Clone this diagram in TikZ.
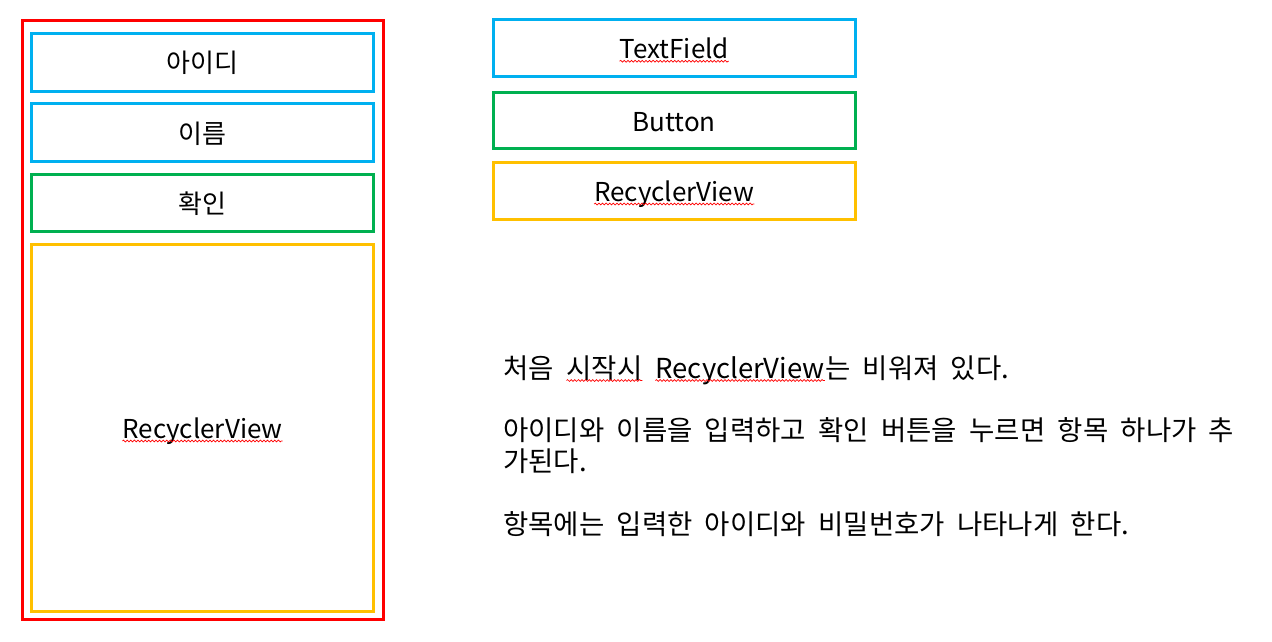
\documentclass[tikz,border=0pt]{standalone}
\usepackage{fontspec}
\setmainfont{Noto Sans CJK KR}[WordSpace=2.0]
\usepackage{tikz}
\usetikzlibrary{positioning,decorations.pathmorphing}
\usepackage{xcolor}
\definecolor{fieldblue}{HTML}{00B0F0}
\definecolor{buttongreen}{HTML}{00B050}
\definecolor{listyellow}{HTML}{FFC000}
\definecolor{framered}{HTML}{FF0000}
\newcommand{\spellmark}[1]{\tikz[baseline=(sw.base)]{%
  \node[draw=none, inner sep=0pt, outer sep=0pt, minimum width=0pt,
    minimum height=0pt, text height=, text depth=] (sw) {#1};
  \draw[framered, line width=0.7pt, decorate,
    decoration={snake, amplitude=0.9pt, segment length=3.6pt}]
    ([yshift=-2.5pt]sw.base west) -- ([yshift=-2.5pt]sw.base east);}}
\tikzset{
  widget/.style={draw, line width=3pt, minimum width=342pt, minimum height=58pt,
    inner sep=0pt, text height=21pt, text depth=0pt,
    font=\fontsize{26}{30}\selectfont},
  legend/.style={widget, minimum width=361.5pt, minimum height=56.5pt},
  desc/.style={anchor=base west, inner sep=0pt, font=\fontsize{27.5}{32}\selectfont},
}

\begin{document}
\begin{tikzpicture}[x=1pt, y=-1pt]
\useasboundingbox (0,0) rectangle (1272,642);

% phone screen
\node[draw=framered, line width=3pt, minimum width=361pt, minimum height=599pt]
  (screen) at (203,320) {};
\node[widget, draw=fieldblue] (idfield) at (202.5,62.5) {아이디};
\node[widget, draw=fieldblue] (namefield) at (202.5,132.5) {이름};
\node[widget, draw=buttongreen, minimum height=57pt] (okbutton) at (202.5,203) {확인};
\node[widget, draw=listyellow, minimum height=367pt] (itemlist) at (202.5,428) {\spellmark{RecyclerView}};

% legend
\node[legend, draw=fieldblue] (legfield) at (674.25,48.25) {\spellmark{TextField}};
\node[legend, draw=buttongreen] (legbutton) at (674.25,120.5) {Button};
\node[legend, draw=listyellow] (leglist) at (674.25,191) {\spellmark{RecyclerView}};

% description
\node[desc] (desc1) at (503,378) {처음 \spellmark{시작시} \spellmark{RecyclerView}는 비워져 있다.};
\node[desc] (desc2) at (503,440) {아이디와 이름을 입력하고 확인 버튼을 누르면 항목 하나가 추};
\node[desc] (desc3) at (503,471) {가된다.};
\node[desc] (desc4) at (503,534) {항목에는 입력한 아이디와 비밀번호가 나타나게 한다.};
\end{tikzpicture}
\end{document}
